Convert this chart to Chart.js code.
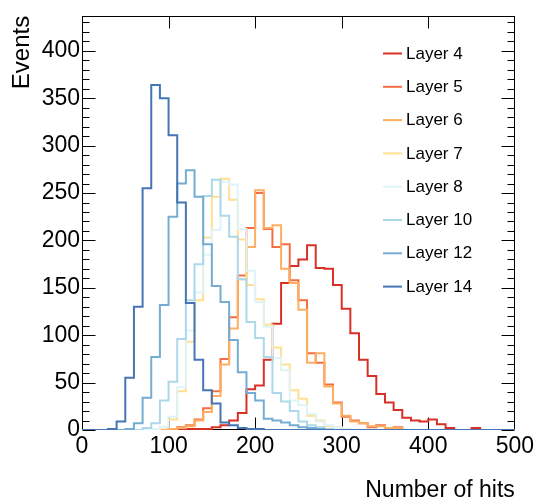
<!DOCTYPE html>
<html>
<head>
<meta charset="utf-8">
<script src="https://cdn.jsdelivr.net/npm/chart.js@4/dist/chart.umd.min.js"></script>
<style>
html,body{margin:0;padding:0;background:#fff;}
canvas{display:block;}
</style>
</head>
<body>
<canvas id="c" width="537" height="504"></canvas>
<script>
// Bin edges (Number of hits), 10-wide bins from 0 to 500
const binEdges = [0,10,20,30,40,50,60,70,80,90,100,110,120,130,140,150,160,170,180,190,200,210,220,230,240,250,260,270,280,290,300,310,320,330,340,350,360,370,380,390,400,410,420,430,440,450,460,470,480,490,500];

const layerNames = ['Layer 4','Layer 5','Layer 6','Layer 7','Layer 8','Layer 10','Layer 12','Layer 14'];

// Events per bin (one value per bin, 50 bins)
const layer4  = [0,0,0,0,0,0,0,0,0,0, 0,1,1,1,1,3,5,10,18,43, 47,74,112,155,173,180,195,171,170,153, 128,102,74,57,38,29,21,13,10,9, 11,6,2,0,0,2,0,0,0,0];
const layer5  = [0,0,0,0,0,0,0,0,0,0, 1,3,5,11,23,41,75,119,163,213, 250,212,193,196,158,137,81,71,48,29, 14,10,7,3,5,1,3,0,0,0, 0,0,0,0,0,0,0,0,0,0];
const layer6  = [0,0,0,0,0,0,0,0,0,0, 1,2,4,10,19,36,69,107,159,193, 253,213,216,170,155,127,71,81,46,28, 15,9,7,4,4,2,2,0,0,0, 0,0,0,0,0,0,0,0,0,0];
const layer7  = [0,0,0,0,0,0,0,0,1,3, 11,41,93,137,203,246,265,243,201,153, 138,111,87,69,42,33,15,10,4,3, 1,0,0,0,0,0,0,0,0,0, 0,0,0,0,0,0,0,0,0,0];
const layer8  = [0,0,0,0,0,0,0,0,1,3, 14,45,105,145,185,211,262,259,212,168, 135,109,76,63,31,26,17,9,5,3, 1,0,0,0,0,0,0,0,0,0, 0,0,0,0,0,0,0,0,0,0];
const layer10 = [0,0,0,0,0,0,0,2,7,31, 51,96,137,175,247,264,226,204,159,114, 97,77,39,30,20,9,5,3,1,0, 0,0,0,0,0,0,0,0,0,0, 0,0,0,0,0,0,0,0,0,0];
const layer12 = [0,0,0,0,0,1,7,34,77,132, 225,260,274,246,196,152,135,95,61,39, 31,12,10,8,5,3,2,1,0,0, 0,0,0,0,0,0,0,0,0,0, 0,0,0,0,0,0,0,0,0,0];
const layer14 = [0,0,0,1,9,55,130,255,364,350, 311,240,134,74,42,28,8,5,2,1, 1,0,0,0,0,0,0,0,0,0, 0,0,0,0,0,0,0,0,0,0, 0,0,0,0,0,0,0,0,0,0];

const series = [layer4, layer5, layer6, layer7, layer8, layer10, layer12, layer14];
const layerColors = ['#d73027','#f46d43','#fdae61','#fee090','#e0f3f8','#abd9e9','#74add1','#4575b4'];

const FONT = "'Liberation Sans', Arial, Helvetica, sans-serif";
Chart.defaults.font.family = FONT;
Chart.defaults.color = '#000';

const datasets = series.map((vals, i) => ({
  label: layerNames[i],
  data: binEdges.map((x, j) => ({x: x, y: vals[Math.min(j, vals.length - 1)]})),
  borderColor: layerColors[i],
  backgroundColor: layerColors[i],
  borderWidth: 2,
  stepped: 'before',
  pointRadius: 0,
  fill: false,
  order: series.length - 1 - i
}));

const framePlugin = {
  id: 'rootFrame',
  beforeDatasetsDraw(chart) {
    const {ctx, chartArea: a, scales: {x, y}} = chart;
    ctx.save();
    ctx.strokeStyle = '#000';
    ctx.lineWidth = 1;
    const L = Math.round(a.left) + 0.5, R = Math.round(a.right) - 0.5;
    const T = Math.round(a.top) + 0.5, B = Math.round(a.bottom) - 0.5;
    ctx.strokeRect(L, T, R - L, B - T);
    ctx.beginPath();
    for (let v = 0; v <= y.max; v += 10) {
      const p = Math.round(y.getPixelForValue(v)) + 0.5;
      const len = (v % 50 === 0) ? 13 : 7;
      ctx.moveTo(L, p); ctx.lineTo(L + len, p);
      ctx.moveTo(R, p); ctx.lineTo(R - len, p);
    }
    for (let v = 100; v < x.max; v += 100) {
      const p = Math.round(x.getPixelForValue(v)) + 0.5;
      ctx.moveTo(p, B); ctx.lineTo(p, B - 12);
      ctx.moveTo(p, T); ctx.lineTo(p, T + 12);
    }
    ctx.stroke();
    ctx.restore();
  }
};

const legendPlugin = {
  id: 'rootLegend',
  afterDatasetsDraw(chart) {
    const ctx = chart.ctx;
    ctx.save();
    ctx.font = '17px ' + FONT;
    ctx.textBaseline = 'middle';
    ctx.textAlign = 'left';
    chart.data.datasets.forEach((ds, i) => {
      const yy = 53.5 + i * 33.3;
      ctx.strokeStyle = ds.borderColor;
      ctx.lineWidth = 2;
      ctx.beginPath();
      ctx.moveTo(383, yy); ctx.lineTo(402, yy);
      ctx.stroke();
      ctx.fillStyle = '#000';
      ctx.fillText(ds.label, 406, yy + 0.5);
    });
    ctx.restore();
  }
};

new Chart(document.getElementById('c'), {
  type: 'line',
  data: {datasets},
  plugins: [framePlugin, legendPlugin],
  options: {
    responsive: false,
    animation: false,
    devicePixelRatio: 1,
    layout: {padding: {left: 0, right: 21, top: 9, bottom: 0}},
    plugins: {legend: {display: false}, tooltip: {enabled: false}},
    scales: {
      x: {
        type: 'linear', min: 0, max: 500,
        ticks: {stepSize: 100, font: {size: 23}, padding: 3, maxRotation: 0, autoSkip: false, includeBounds: false},
        grid: {display: false, drawTicks: false},
        border: {display: false},
        title: {display: true, text: 'Number of hits', align: 'end', font: {size: 23}, padding: {top: 0, bottom: 0}},
        afterFit(s) { s.height = 74; }
      },
      y: {
        type: 'linear', min: 0, max: 437,
        ticks: {stepSize: 50, font: {size: 23}, padding: 2, includeBounds: false},
        grid: {display: false, drawTicks: false},
        border: {display: false},
        title: {display: true, text: 'Events', align: 'end', font: {size: 24}, padding: {top: 8, bottom: 0}},
        afterFit(s) { s.width = 82; }
      }
    }
  }
});
</script>
</body>
</html>
